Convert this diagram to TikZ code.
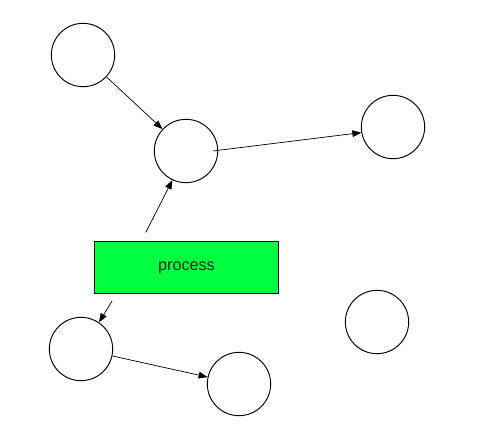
\documentclass[tikz,border=0pt]{standalone}
\usepackage{fontspec}
\setmainfont{Liberation Sans}
\usetikzlibrary{arrows.meta}
\definecolor{procgreen}{RGB}{0,255,64}
\definecolor{proctext}{RGB}{10,45,10}

\begin{document}
\begin{tikzpicture}[x=0.03cm,y=-0.03cm,
    blob/.style={draw,circle,line width=0.8pt,minimum size=1.9cm,inner sep=0pt},
    procbox/.style={draw,line width=0.8pt,fill=procgreen,minimum width=5.52cm,minimum height=1.56cm,
      font=\fontsize{13.8}{16}\selectfont,text=proctext},
    link/.style={-{Triangle[length=0.27cm,width=0.2cm]},line width=0.6pt}]

  \useasboundingbox (0,0) rectangle (484,439);

  % Circles.
  \node[blob] (c1) at (83,55) {};
  \node[blob] (c2) at (186,151) {};
  \node[blob] (c3) at (393,127) {};
  \node[blob] (c4) at (81,349) {};
  \node[blob] (c5) at (239,384) {};
  \node[blob] (c6) at (377,322) {};

  % Process box.
  \node[procbox] (proc) at (186.5,267.5) {process};

  % Connectors.
  \draw[link] (c1) -- (c2);
  \draw[link] ([xshift=-0.16cm]c2.east) -- (c3.190);
  \draw[link,shorten <=0.29cm] ([xshift=1.42cm]proc.north west) -- (c2.245);
  \draw[link,shorten <=0.25cm] ([xshift=0.67cm]proc.south west) -- (c4.56);
  \draw[link] (c4) -- (c5);

\end{tikzpicture}
\end{document}
